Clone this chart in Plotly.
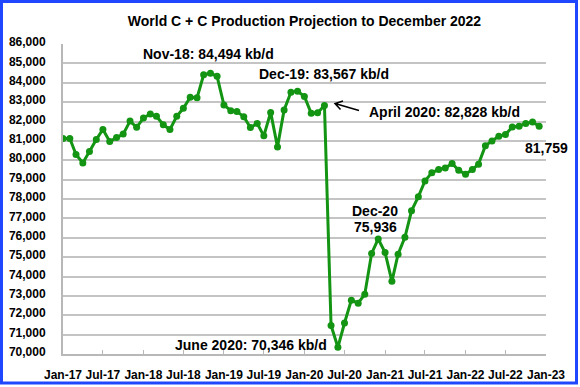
import plotly.graph_objects as go

# ---- data ----
months = [f"{y}-{m:02d}-01" for y in range(2017, 2023) for m in range(1, 13)]
production = [
    81120, 81120, 80300, 79860, 80450, 81070, 81590, 80970, 81170, 81350, 82020, 81700,
    82180, 82390, 82270, 81830, 81590, 82270, 82680, 83250, 83220, 84410, 84494, 84330,
    82850, 82560, 82510, 82250, 81690, 81900, 81260, 82470, 80690, 82600, 83510, 83567,
    83290, 82420, 82450, 82828, 71470, 70346, 71600, 72780, 72620, 73090, 75190, 75936,
    75240, 73750, 75150, 76020, 77390, 78120, 78930, 79360, 79520, 79600, 79830, 79480,
    79280, 79520, 79800, 80750, 81000, 81240, 81330, 81720, 81760, 81900, 81970, 81759,
]
tick_dates = [f"{y}-{m:02d}-01" for y in range(2017, 2024) for m in (1, 7)][:13]
tick_labels = ["Jan-17", "Jul-17", "Jan-18", "Jul-18", "Jan-19", "Jul-19", "Jan-20",
               "Jul-20", "Jan-21", "Jul-21", "Jan-22", "Jul-22", "Jan-23"]
y_ticks = list(range(70000, 86001, 1000))

W, H = 580, 387
ML, MR, MT, MB = 63, 34, 44, 33
PW, PH = W - ML - MR, H - MT - MB

def px(x):
    return (x - ML) / PW

def py(y):
    return (H - MB - y) / PH

FONT = "Arial, Liberation Sans, sans-serif"
GREEN = "#139413"

fig = go.Figure()
fig.add_trace(go.Scatter(
    x=months, y=production, mode="lines+markers",
    line=dict(color=GREEN, width=3),
    marker=dict(color=GREEN, size=7),
    showlegend=False, hoverinfo="x+y",
))

fig.update_layout(
    width=W, height=H,
    margin=dict(l=ML, r=MR, t=MT, b=MB, autoexpand=False),
    paper_bgcolor="white", plot_bgcolor="white",
    font=dict(family=FONT, size=12, color="black"),
    title=dict(text="<b>World C + C Production Projection to December 2022</b>",
               x=0.5, xref="paper", xanchor="center", y=1 - 21 / H, yanchor="middle",
               font=dict(size=14, family=FONT, color="black")),
    xaxis=dict(
        type="date", range=["2017-01-01", "2023-01-01"],
        tickvals=tick_dates, ticktext=[f"<b>{t}</b>" for t in tick_labels],
        tickfont=dict(size=12, family=FONT, color="black"),
        showgrid=False, zeroline=False, automargin=False,
        showline=True, linecolor="#b8b8b8", linewidth=2,
        ticks="inside", ticklen=4, tickcolor="#b8b8b8", tickwidth=1,
        ticklabelstandoff=9,
    ),
    yaxis=dict(
        range=[70000, 86000],
        tickvals=y_ticks, ticktext=[f"<b>{v:,}</b>" for v in y_ticks],
        tickfont=dict(size=12, family=FONT, color="black"),
        showgrid=True, gridcolor="#c4c4c4", gridwidth=2, automargin=False,
        zeroline=False, showline=True, linecolor="#b8b8b8", linewidth=2,
        ticks="", ticklabelstandoff=13, ticklabelshift=-2,
    ),
)

def label(text, xc, yc):
    fig.add_annotation(text=f"<b>{text}</b>", x=px(xc), y=py(yc), xref="paper", yref="paper",
                       xanchor="center", yanchor="middle", showarrow=False,
                       font=dict(size=14, family=FONT, color="black"))

label("Nov-18: 84,494 kb/d", 208, 54)
label("Dec-19: 83,567 kb/d", 324, 74)
label("April 2020: 82,828 kb/d", 444, 112)
label("81,759", 546, 148)
label("Dec-20", 375, 211)
label("75,936", 375, 227)
label("June 2020: 70,346 kb/d", 251, 345)

# arrow pointing to April 2020 point (open chevron head)
head = (335, 103.5)
tail = (359, 110.5)
w1 = (340.5, 109.5)
w2 = (343.0, 101.0)
path = (f"M {px(tail[0])},{py(tail[1])} L {px(head[0])},{py(head[1])} "
        f"M {px(w1[0])},{py(w1[1])} L {px(head[0])},{py(head[1])} L {px(w2[0])},{py(w2[1])}")
fig.add_shape(type="path", path=path, xref="paper", yref="paper",
              line=dict(color="black", width=1.5))

# blue outer border
fig.add_shape(type="rect", xref="paper", yref="paper",
              x0=px(1.5), x1=px(576.5), y0=py(383), y1=py(1.5),
              line=dict(color="#1f47ff", width=3), fillcolor="rgba(0,0,0,0)", layer="above")

fig.write_html("out.html", config={"displayModeBar": False},
               post_script="document.body.style.margin='0';document.body.style.overflow='hidden';")
